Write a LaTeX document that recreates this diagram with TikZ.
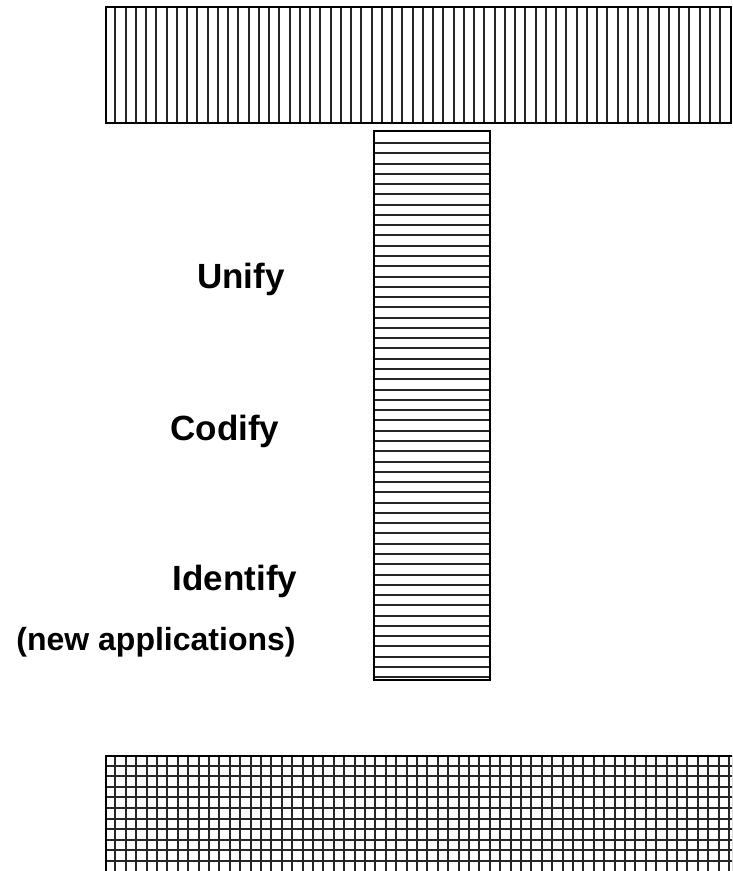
\documentclass[tikz,border=0pt]{standalone}
\usepackage{fontspec}
\setmainfont{Liberation Sans}
\usepackage{tikz}
\usetikzlibrary{positioning}

\tikzset{
  hatch/.style={line width=2.4pt, black!85},
  frame/.style={draw, line width=2.4pt},
  label/.style={font=\bfseries\fontsize{35}{40}\selectfont, anchor=base, inner sep=0pt}
}

\begin{document}
\begin{tikzpicture}[x=1pt, y=-1pt]
\useasboundingbox (0,0) rectangle (732,871);

% top bar
\foreach \i in {1,...,60}{
  \pgfmathsetmacro\xx{round(105+\i*10.25)}
  \draw[hatch] (\xx, 7) -- (\xx, 123);
}
\draw[frame] (106,7) rectangle (731,123);

% middle column
\foreach \i in {0,...,52}{
  \pgfmathsetmacro\yy{round(143+\i*10.275)}
  \draw[hatch] (373, \yy) -- (490, \yy);
}
\draw[frame] (374,131) rectangle (490,680);

% bottom bar
\begin{scope}
\clip (0,0) rectangle (732,871);
\foreach \i in {1,...,60}{
  \pgfmathsetmacro\xx{round(105+\i*10.4)}
  \draw[hatch] (\xx, 755) -- (\xx, 871);
}
\foreach \i in {1,...,11}{
  \pgfmathsetmacro\yy{round(755+\i*10.6)}
  \draw[hatch] (105, \yy) -- (732, \yy);
}
\draw[frame] (106,756) rectangle (733,872);
\end{scope}

% labels
\node[label] (unify) at (241, 288) {Unify};
\node[label] (codify) at (225, 440) {Codify};
\node[label] (identify) at (235, 590) {Identify};
\node[label, font=\bfseries\fontsize{32}{36}\selectfont] (newapps) at (156, 650) {(new applications)};

\end{tikzpicture}
\end{document}
